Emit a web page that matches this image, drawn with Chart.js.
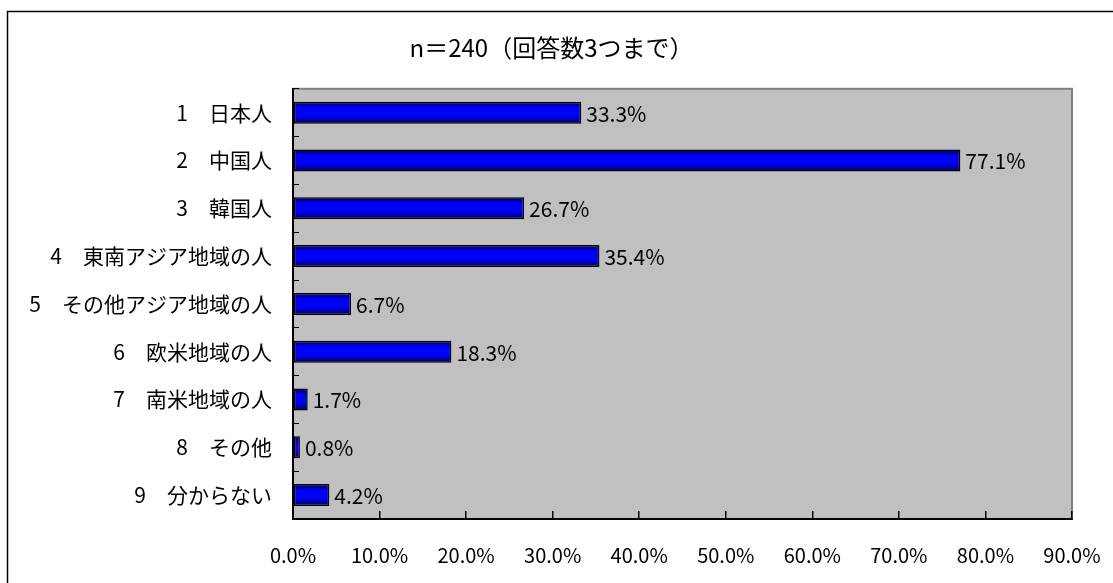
<!DOCTYPE html>
<html>
<head>
<meta charset="utf-8">
<script src="https://cdn.jsdelivr.net/npm/chart.js@4"></script>
<style>
  html, body { margin: 0; padding: 0; background: #fff; }
  #wrap { width: 1113px; height: 583px; position: relative; }
</style>
</head>
<body>
<div id="wrap"><canvas id="myChart"></canvas></div>
<script>
// 回答者の国籍（複数回答）
const categories = ['1　日本人', '2　中国人', '3　韓国人', '4　東南アジア地域の人', '5　その他アジア地域の人',
    '6　欧米地域の人', '7　南米地域の人', '8　その他', '9　分からない'];
const values = [33.3, 77.1, 26.7, 35.4, 6.7, 18.3, 1.7, 0.8, 4.2];
const xTicks = [0, 10, 20, 30, 40, 50, 60, 70, 80, 90];
const titleText = 'n＝240（回答数3つまで）';

const jpFont = '"Noto Sans CJK JP", "Noto Sans", sans-serif';

// 外枠とプロットエリアの背景
const framePlugin = {
    id: 'frame',
    afterLayout(chart) {
        // タイトルは外枠の中央に
        const t = chart.titleBlock;
        if (t) {
            t.left = -10;
            t.right = 1113;
            t.width = 1123;
        }
    },
    beforeDraw(chart) {
        const c = chart.ctx, a = chart.chartArea;
        c.save();
        c.strokeStyle = '#000';
        c.lineWidth = 1.5;
        c.strokeRect(7.5, 11.5, 1300, 800);
        c.fillStyle = '#C0C0C0';
        c.fillRect(a.left, a.top, a.right - a.left, a.bottom - a.top);
        c.strokeStyle = '#808080';
        c.lineWidth = 2;
        c.strokeRect(a.left, a.top, a.right - a.left, a.bottom - a.top);
        c.restore();
    }
};

// 棒の右にパーセント表示
const labelPlugin = {
    id: 'barLabels',
    afterDatasetsDraw(chart) {
        const c = chart.ctx;
        const meta = chart.getDatasetMeta(0);
        c.save();
        c.font = '21px ' + jpFont;
        c.fillStyle = '#000';
        c.textAlign = 'left';
        c.textBaseline = 'middle';
        meta.data.forEach(function (bar, i) {
            c.fillText(values[i].toFixed(1) + '%', bar.x + 5, bar.y + 1);
        });
        c.restore();
    }
};

function barGradient(context) {
    const chart = context.chart;
    const y = chart.scales.y;
    if (!y || context.dataIndex === undefined) return '#0000FF';
    const cy = y.getPixelForValue(context.dataIndex);
    if (!isFinite(cy)) return '#0000FF';
    const h = 11;
    const g = chart.ctx.createLinearGradient(0, cy - h, 0, cy + h);
    g.addColorStop(0, '#000050');
    g.addColorStop(0.3, '#0000F8');
    g.addColorStop(0.6, '#0000FF');
    g.addColorStop(1, '#000060');
    return g;
}

var ctx = document.getElementById('myChart');
var myChart = new Chart(ctx, {
    type: 'bar',
    data: {
        labels: categories,
        datasets: [{
            label: '回答率',
            data: values,
            backgroundColor: barGradient,
            borderColor: '#000',
            borderWidth: 1.5,
            borderSkipped: false,
            categoryPercentage: 1,
            barPercentage: 0.46
        }]
    },
    options: {
        indexAxis: 'y',
        responsive: true,
        maintainAspectRatio: false,
        animation: false,
        layout: { padding: { left: 0, right: 41, top: 0, bottom: 0 } },
        plugins: {
            legend: { display: false },
            tooltip: { enabled: false },
            title: {
                display: true,
                text: titleText,
                color: '#000',
                font: { family: jpFont, size: 24, weight: 'normal' },
                padding: { top: 33, bottom: 27 }
            }
        },
        scales: {
            x: {
                min: 0,
                max: 90,
                afterBuildTicks(scale) {
                    scale.ticks = xTicks.map(v => ({ value: v }));
                },
                afterFit(scale) {
                    scale.height = 64;
                    scale.paddingLeft = 0;
                    scale.paddingRight = 0;
                },
                ticks: {
                    color: '#000',
                    font: { family: jpFont, size: 20 },
                    padding: 32,
                    maxRotation: 0,
                    callback: v => Number(v).toFixed(1) + '%'
                },
                grid: {
                    drawOnChartArea: false,
                    drawTicks: true,
                    tickLength: -8,
                    color: '#000',
                    lineWidth: 1.5
                },
                border: { color: '#000', width: 2 }
            },
            y: {
                afterFit(scale) { scale.width = 293; },
                ticks: {
                    color: '#000',
                    font: { family: jpFont, size: 21 },
                    padding: 27
                },
                grid: {
                    offset: true,
                    drawOnChartArea: false,
                    drawTicks: true,
                    tickLength: -6,
                    color: '#000',
                    lineWidth: 1
                },
                border: { color: '#000', width: 2 }
            }
        }
    },
    plugins: [framePlugin, labelPlugin]
});
</script>
</body>
</html>
